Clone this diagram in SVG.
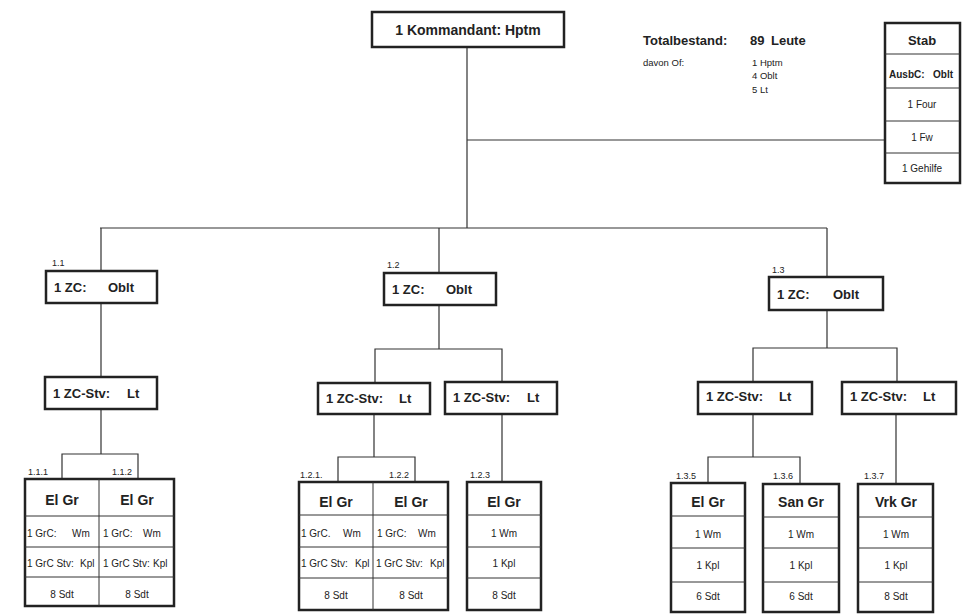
<svg xmlns="http://www.w3.org/2000/svg" width="970" height="615" viewBox="0 0 970 615">
<style>
text{font-family:"Liberation Sans",Arial,sans-serif;fill:#222}
.b{fill:#fff;stroke:#222;stroke-width:2.5}
.d{stroke:#333;stroke-width:1;fill:none}
.c{stroke:#333;stroke-width:1.2;fill:none}
.t{font-size:13px;font-weight:bold}
.tt{font-size:14px;font-weight:bold}
.h{font-size:14px;font-weight:bold;text-anchor:middle}
.s{font-size:10px;text-anchor:middle}
.sl{font-size:10px}
.l{font-size:9px}
</style>
<rect width="970" height="615" fill="#fff"/>
<g id="connectors" class="c">
<path d="M467 47V228M100 228H827M467 140H885"/>
<path d="M101 228V271M439 228V273M827 228V277"/>
<path d="M101 303V377M101 409V454M62 479V454H138V479"/>
<path d="M439 305V349M375 383V349H502V382M374 414V457M338 482V457H415V482M502 414V482"/>
<path d="M827 310V348M753 382V348H897V382M753 414V457M708 483V457H800V484M896 414V484"/>
</g>
<g id="kommandant"><rect class="b" x="372" y="12" width="192" height="35"/><text class="tt" x="468" y="35" text-anchor="middle">1 Kommandant: Hptm</text></g>
<g id="total">
<text class="t" x="643" y="45">Totalbestand:</text><text class="t" x="750" y="45">89</text><text class="t" x="771" y="45">Leute</text>
<text class="sl" x="643" y="66" style="font-size:9.5px">davon Of:</text>
<text class="sl" x="752" y="66" style="font-size:9.5px">1 Hptm</text><text class="sl" x="752" y="79" style="font-size:9.5px">4 Oblt</text><text class="sl" x="752" y="93" style="font-size:9.5px">5 Lt</text>
</g>
<g id="stab"><rect class="b" x="885" y="23" width="75" height="160"/>
<path class="d" d="M885 54H960M885 88H960M885 121H960M885 153H960"/>
<text class="h" x="922" y="45" style="font-size:13px">Stab</text>
<text class="sl" x="889" y="78" style="font-weight:bold">AusbC:</text><text class="sl" x="953" y="78" style="font-weight:bold;text-anchor:end">Oblt</text>
<text class="s" x="922" y="108">1 Four</text><text class="s" x="922" y="141">1 Fw</text><text class="s" x="922" y="172">1 Gehilfe</text>
</g>
<g id="zc11"><text class="l" x="52" y="266">1.1</text><rect class="b" x="46" y="271" width="111" height="32"/><text class="t" x="54" y="292">1 ZC:</text><text class="t" x="108" y="292">Oblt</text></g>
<g id="zc12"><text class="l" x="387" y="268">1.2</text><rect class="b" x="384" y="273" width="112" height="32"/><text class="t" x="392" y="294">1 ZC:</text><text class="t" x="446" y="294">Oblt</text></g>
<g id="zc13"><text class="l" x="772" y="273">1.3</text><rect class="b" x="769" y="277" width="114" height="33"/><text class="t" x="777" y="299">1 ZC:</text><text class="t" x="833" y="299">Oblt</text></g>
<g id="stv11"><rect class="b" x="45" y="377" width="112" height="32"/><text class="t" x="53" y="398">1 ZC-Stv:</text><text class="t" x="127" y="398">Lt</text></g>
<g id="stv12a"><rect class="b" x="318" y="383" width="112" height="31"/><text class="t" x="326" y="403">1 ZC-Stv:</text><text class="t" x="399" y="403">Lt</text></g>
<g id="stv12b"><rect class="b" x="445" y="382" width="112" height="32"/><text class="t" x="453" y="402">1 ZC-Stv:</text><text class="t" x="527" y="402">Lt</text></g>
<g id="stv13a"><rect class="b" x="698" y="382" width="114" height="32"/><text class="t" x="706" y="401">1 ZC-Stv:</text><text class="t" x="779" y="401">Lt</text></g>
<g id="stv13b"><rect class="b" x="842" y="382" width="114" height="32"/><text class="t" x="850" y="401">1 ZC-Stv:</text><text class="t" x="923" y="401">Lt</text></g>
<g id="gr111-112">
<text class="l" x="28" y="475">1.1.1</text><text class="l" x="112" y="475">1.1.2</text>
<rect class="b" x="25" y="479" width="149" height="127"/>
<path class="d" d="M99 479V606M25 516H174M25 547H174M25 577H174"/>
<text class="h" x="62" y="505">El Gr</text><text class="h" x="137" y="505">El Gr</text>
<text class="sl" x="27" y="537">1 GrC:</text><text class="sl" x="72" y="537">Wm</text>
<text class="sl" x="103" y="537">1 GrC:</text><text class="sl" x="143" y="537">Wm</text>
<text class="sl" x="27" y="567">1 GrC Stv:</text><text class="sl" x="80" y="567">Kpl</text>
<text class="sl" x="103" y="567">1 GrC Stv:</text><text class="sl" x="153" y="567">Kpl</text>
<text class="s" x="62" y="598">8 Sdt</text><text class="s" x="137" y="598">8 Sdt</text>
</g>
<g id="gr121-122">
<text class="l" x="300" y="478">1.2.1.</text><text class="l" x="389" y="478">1.2.2</text>
<rect class="b" x="299" y="482" width="149" height="128"/>
<path class="d" d="M373 482V610M299 515H448M299 547H448M299 578H448"/>
<text class="h" x="336" y="507">El Gr</text><text class="h" x="411" y="507">El Gr</text>
<text class="sl" x="301" y="537">1 GrC.</text><text class="sl" x="343" y="537">Wm</text>
<text class="sl" x="377" y="537">1 GrC:</text><text class="sl" x="418" y="537">Wm</text>
<text class="sl" x="301" y="567">1 GrC Stv:</text><text class="sl" x="355" y="567">Kpl</text>
<text class="sl" x="376" y="567">1 GrC Stv:</text><text class="sl" x="430" y="567">Kpl</text>
<text class="s" x="336" y="599">8 Sdt</text><text class="s" x="411" y="599">8 Sdt</text>
</g>
<g id="gr123">
<text class="l" x="470" y="478">1.2.3</text>
<rect class="b" x="467" y="482" width="74" height="128"/>
<path class="d" d="M467 515H541M467 547H541M467 578H541"/>
<text class="h" x="504" y="507">El Gr</text><text class="s" x="504" y="537">1 Wm</text><text class="s" x="504" y="567">1 Kpl</text><text class="s" x="504" y="599">8 Sdt</text>
</g>
<g id="gr135">
<text class="l" x="676" y="479">1.3.5</text>
<rect class="b" x="671" y="483" width="74" height="129"/>
<path class="d" d="M671 516H745M671 548H745M671 582H745"/>
<text class="h" x="708" y="507">El Gr</text><text class="s" x="708" y="538">1 Wm</text><text class="s" x="708" y="569">1 Kpl</text><text class="s" x="708" y="600">6 Sdt</text>
</g>
<g id="gr136">
<text class="l" x="773" y="479">1.3.6</text>
<rect class="b" x="763" y="484" width="76" height="128"/>
<path class="d" d="M763 517H839M763 548H839M763 582H839"/>
<text class="h" x="801" y="507">San Gr</text><text class="s" x="801" y="538">1 Wm</text><text class="s" x="801" y="569">1 Kpl</text><text class="s" x="801" y="600">6 Sdt</text>
</g>
<g id="gr137">
<text class="l" x="864" y="479">1.3.7</text>
<rect class="b" x="858" y="484" width="75" height="128"/>
<path class="d" d="M858 517H933M858 548H933M858 582H933"/>
<text class="h" x="896" y="507">Vrk Gr</text><text class="s" x="896" y="538">1 Wm</text><text class="s" x="896" y="569">1 Kpl</text><text class="s" x="896" y="600">8 Sdt</text>
</g>
</svg>
